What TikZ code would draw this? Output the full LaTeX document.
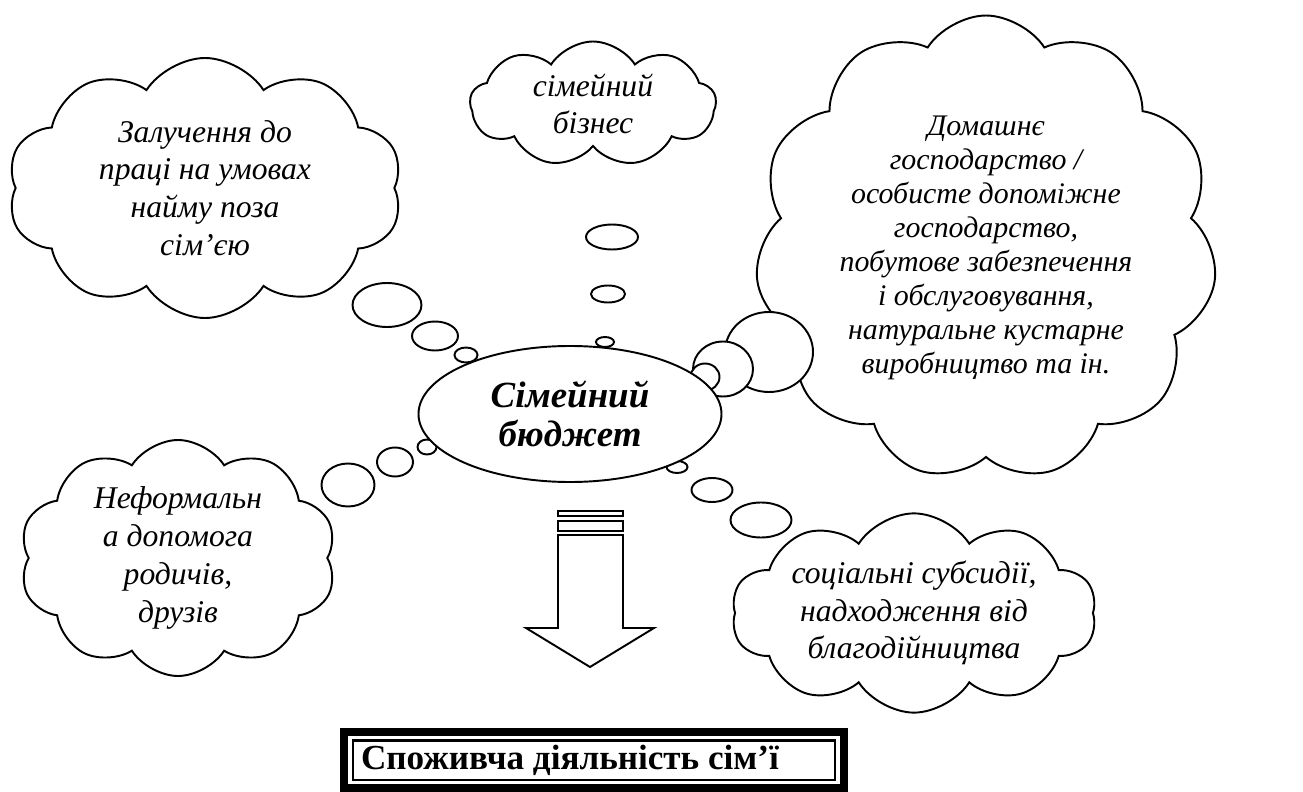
\documentclass[tikz,border=0pt]{standalone}
\usepackage{fontspec}
\setmainfont{Liberation Serif}
\usetikzlibrary{shapes.symbols,shapes.geometric}

\begin{document}
\begin{tikzpicture}[
            x=0.2mm, y=-0.2mm,
            c/.style={draw,line width=1.1pt,fill=white,cloud,cloud puffs=10,cloud puff arc=115,cloud ignores aspect,
                align=center,inner sep=0pt,font=\itshape\fontsize{18}{21.5}\selectfont},
            b/.style={draw,line width=1.1pt,fill=white,ellipse,inner sep=0pt},
            stripe/.style={draw,line width=1.1pt,fill=white},
            frame/.style={draw,line width=0.5mm,minimum width=96.4mm,minimum height=7.9mm,inner sep=0pt}
        ]

        \useasboundingbox (0,0) rectangle (1303,792);

        % clouds
        \node[c,minimum width=79mm,minimum height=52mm] (hire) at (205,188)
            {Залучення до\\праці на умовах\\найму поза\\сім’єю};
        \node[c,cloud puffs=9,minimum width=49.2mm,minimum height=25mm] (biz) at (593,104)
            {сімейний\\бізнес};
        \node[c,cloud puffs=11,minimum width=92.4mm,minimum height=93mm,font=\itshape\fontsize{17}{19.4}\selectfont] (home) at (986,248)
            {Домашнє\\господарство /\\особисте допоміжне\\господарство,\\побутове забезпечення\\і обслуговування,\\натуральне кустарне\\виробництво та ін.};
        \node[c,minimum width=63.4mm,minimum height=47.2mm] (help) at (178,558)
            {Неформальн\\а допомога\\родичів,\\друзів};
        \node[c,minimum width=73mm,minimum height=38.6mm] (aid) at (914,613)
            {соціальні субсидії,\\надходження від\\благодійництва};

        % thought bubbles
        \foreach \n/\x/\y/\w/\h in {hireA/387/305/69/44, hireB/435/336/46/29, hireC/466/355/23/15,
                bizA/612/237/52/25, bizB/608/294/34/17, bizC/605/342/18/10,
                homeA/769/352/88/80, homeB/723/369/60/55, homeC/705/377/29/27,
                helpA/348/485/53/43, helpB/395/462/36/29, helpC/427/447/19/15,
                aidA/677/467/21/12, aidB/712/490/41/24, aidC/761/520/61/35}
            \node[b,minimum width=\w*0.2mm,minimum height=\h*0.2mm] (\n) at (\x,\y) {};

        \node[b,minimum width=60.6mm,minimum height=27.2mm,align=center,
            font=\bfseries\itshape\fontsize{21}{21.8}\selectfont] (budget) at (570,414) {Сімейний\\бюджет};

        % arrow down
        \node[stripe,minimum width=13mm,minimum height=1mm,inner sep=0pt] (s1) at (590.5,513.5) {};
        \node[stripe,minimum width=13mm,minimum height=2mm,inner sep=0pt] (s2) at (590.5,526) {};
        \draw[line width=1.1pt] (558,535) -- (623,535) -- (623,628) -- (654,628) -- (590,667)
            -- (526,628) -- (558,628) -- cycle;

        % result
        \node[frame] (fr) at (594,760) {};
        \node[font=\bfseries\fontsize{20}{24}\selectfont] (use) at (570,760) {Споживча діяльність сім’ї};
        \draw[line width=1.6mm] ([shift={(-8,-7.5)}]fr.north west) rectangle ([shift={(7.5,7)}]fr.south east);

\end{tikzpicture}
\end{document}
